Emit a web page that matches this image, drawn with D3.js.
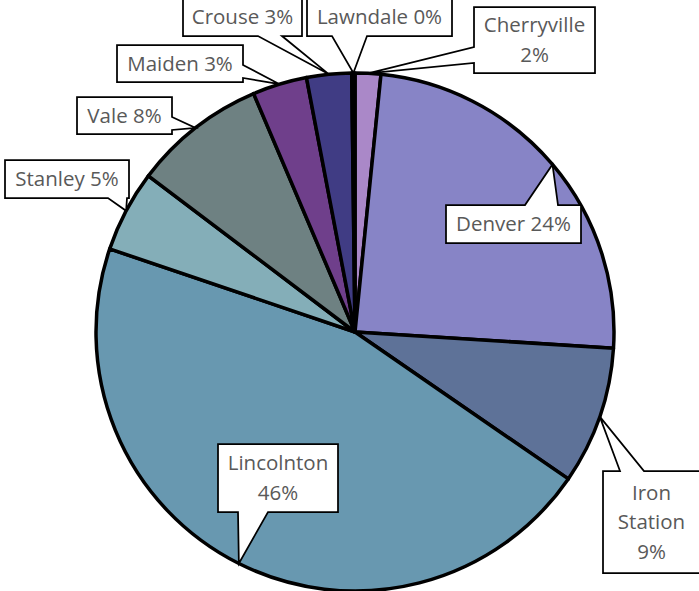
<!DOCTYPE html>
<html>
<head>
<meta charset="utf-8">
<script src="https://cdn.jsdelivr.net/npm/d3@7"></script>
<style>
  body { margin: 0; background: #fff; }
  svg { display: block; }
  text { font-family: "Open Sans", sans-serif; }
</style>
</head>
<body>
<svg id="chart" width="699" height="591"></svg>
<script>
// data, clockwise from 12 o'clock
const towns  = ["Cherryville", "Denver", "Iron Station", "Lincolnton", "Stanley", "Vale", "Maiden", "Crouse", "Lawndale"];
const shares = [1.6, 24.4, 8.6, 45.6, 5.1, 8.3, 3.4, 2.8, 0.2];
const colors = ["#AA88C8", "#8784C6", "#5E7298", "#6898B0", "#84AEB8", "#6E8182", "#6F3F8B", "#403C84", "#5A5AA0"];

// callout boxes (layout only): box, side the pointer leaves from, pointer base
const callouts = {
  "Cherryville":  { x: 474, y: 7,   w: 121, h: 66,  side: "left",   a0: 47,  a1: 63,  lines: "name|pct" },
  "Denver":       { x: 446, y: 205, w: 135, h: 38,  side: "top",    a0: 525, a1: 558, lines: "one" },
  "Iron Station": { x: 603, y: 471, w: 97,  h: 102, side: "top",    a0: 620, a1: 644, lines: "words|pct" },
  "Lincolnton":   { x: 218, y: 444, w: 120, h: 68,  side: "bottom", a0: 238, a1: 268, lines: "name|pct" },
  "Stanley":      { x: 5,   y: 160, w: 124, h: 38,  side: "bottom", a0: 108, a1: 127, lines: "one" },
  "Vale":         { x: 77,  y: 97,  w: 95,  h: 37,  side: "right",  a0: 117, a1: 130, lines: "one" },
  "Maiden":       { x: 117, y: 45,  w: 126, h: 37,  side: "right",  a0: 65,  a1: 78,  lines: "one" },
  "Crouse":       { x: 183, y: -2,  w: 119, h: 38,  side: "bottom", a0: 258, a1: 282, lines: "one" },
  "Lawndale":     { x: 307, y: -2,  w: 145, h: 38,  side: "bottom", a0: 332, a1: 367, lines: "one" }
};

const CX = 355, CY = 332, R = 259;
const LINE_H = 29.5;

const svg = d3.select("#chart");
const total = d3.sum(shares);
const pct = d3.format(".0%");

const slices = d3.pie().sort(null).value(i => shares[i])(d3.range(towns.length));
const arc = d3.arc().innerRadius(0).outerRadius(R);
const rim = d3.arc().innerRadius(R).outerRadius(R);

const pie = svg.append("g").attr("transform", `translate(${CX},${CY})`);
pie.selectAll("path")
  .data(slices)
  .join("path")
  .attr("d", arc)
  .attr("fill", d => colors[d.data])
  .attr("stroke", "#000")
  .attr("stroke-width", 3.5)
  .attr("stroke-linejoin", "round");

// wedge-rectangle callout outline
function calloutPath(b, tip) {
  const p = [[b.x, b.y]];
  if (b.side === "top") p.push([b.a0, b.y], tip, [b.a1, b.y]);
  p.push([b.x + b.w, b.y]);
  if (b.side === "right") p.push([b.x + b.w, b.a0], tip, [b.x + b.w, b.a1]);
  p.push([b.x + b.w, b.y + b.h]);
  if (b.side === "bottom") p.push([b.a1, b.y + b.h], tip, [b.a0, b.y + b.h]);
  p.push([b.x, b.y + b.h]);
  if (b.side === "left") p.push([b.x, b.a1], tip, [b.x, b.a0]);
  return "M" + p.map(q => q.join(",")).join("L") + "Z";
}

function labelLines(name, b, share) {
  const s = pct(share / total);
  if (b.lines === "one") return [name + " " + s];
  if (b.lines === "name|pct") return [name, s];
  return name.split(" ").concat([s]);
}

const labels = svg.append("g");
slices.forEach(d => {
  const name = towns[d.data];
  const b = callouts[name];
  const c = rim.centroid(d);
  const tip = [CX + c[0], CY + c[1]];

  labels.append("path")
    .attr("d", calloutPath(b, tip))
    .attr("fill", "#fff")
    .attr("stroke", "#000")
    .attr("stroke-width", 1.75);

  const lines = labelLines(name, b, shares[d.data]);
  const mid = b.y + b.h / 2;
  labels.append("text")
    .attr("x", b.x + b.w / 2)
    .attr("text-anchor", "middle")
    .attr("font-size", 20.5)
    .attr("fill", "#595959")
    .selectAll("tspan")
    .data(lines)
    .join("tspan")
    .attr("x", b.x + b.w / 2)
    .attr("y", (t, i) => mid + (i - (lines.length - 1) / 2) * LINE_H)
    .attr("dy", "0.35em")
    .text(t => t);
});
</script>
</body>
</html>
